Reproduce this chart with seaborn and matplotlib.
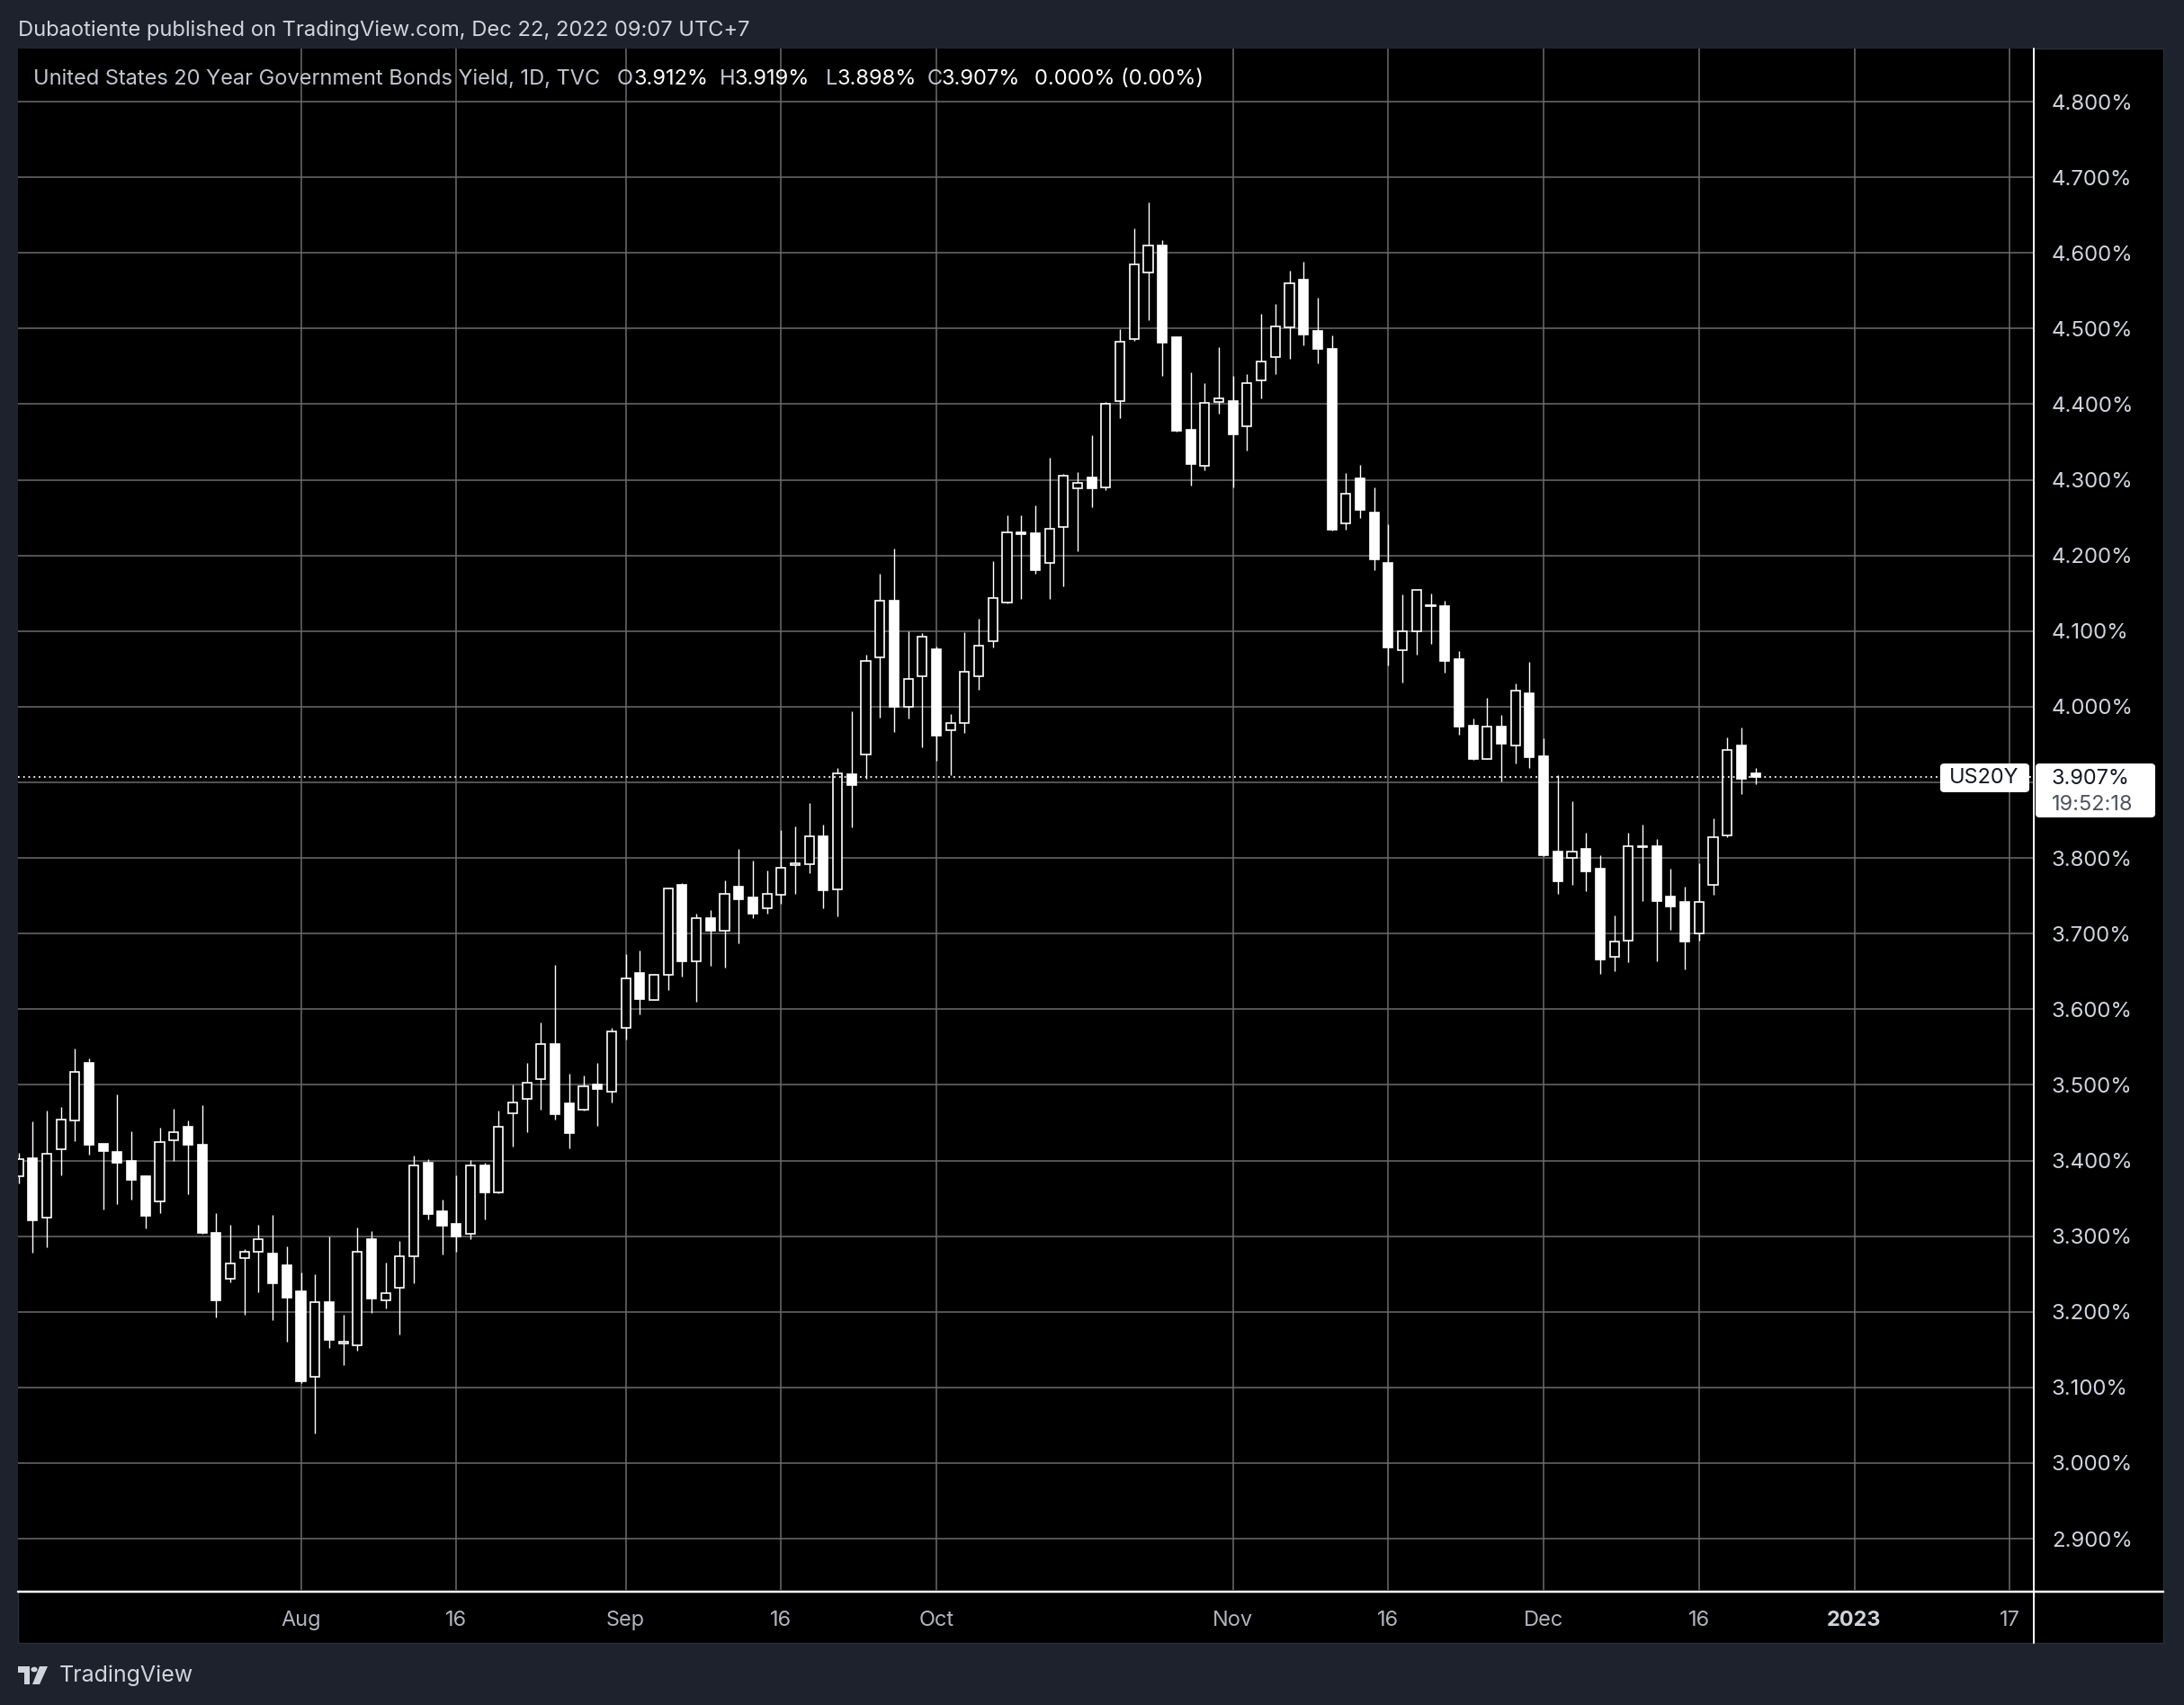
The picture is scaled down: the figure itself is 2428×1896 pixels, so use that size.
import numpy as np
import pandas as pd
import matplotlib
matplotlib.use("Agg")
import matplotlib.pyplot as plt
import seaborn as sns
from matplotlib.patches import Rectangle, FancyBboxPatch, Polygon, Circle
from matplotlib.lines import Line2D

# ---------------- data ----------------
dates = pd.bdate_range("2022-07-04", "2022-12-22")

opens = [3.379, 3.403, 3.325, 3.415, 3.453, 3.529, 3.422, 3.411, 3.400, 3.379,
         3.346, 3.427, 3.445, 3.421, 3.304, 3.244, 3.271, 3.279, 3.277, 3.262,
         3.227, 3.114, 3.213, 3.158, 3.156, 3.296, 3.215, 3.232, 3.273, 3.397,
         3.333, 3.316, 3.303, 3.393, 3.358, 3.462, 3.481, 3.508, 3.554, 3.476,
         3.467, 3.501, 3.491, 3.575, 3.648, 3.612, 3.646, 3.764, 3.663, 3.721,
         3.704, 3.762, 3.748, 3.733, 3.751, 3.791, 3.792, 3.829, 3.758, 3.911,
         3.937, 4.065, 4.140, 4.000, 4.040, 4.076, 3.969, 3.979, 4.040, 4.087,
         4.138, 4.230, 4.229, 4.190, 4.238, 4.289, 4.303, 4.290, 4.404, 4.486,
         4.574, 4.610, 4.488, 4.366, 4.319, 4.403, 4.404, 4.371, 4.431, 4.462,
         4.501, 4.565, 4.497, 4.473, 4.242, 4.302, 4.257, 4.190, 4.075, 4.100,
         4.133, 4.133, 4.063, 3.975, 3.931, 3.974, 3.949, 4.018, 3.934, 3.808,
         3.800, 3.812, 3.786, 3.669, 3.691, 3.816, 3.815, 3.749, 3.742, 3.700,
         3.764, 3.830, 3.949, 3.912]
highs = [3.410, 3.452, 3.466, 3.471, 3.548, 3.535, 3.422, 3.488, 3.439, 3.380,
         3.444, 3.468, 3.453, 3.473, 3.330, 3.315, 3.283, 3.315, 3.328, 3.287,
         3.252, 3.250, 3.300, 3.196, 3.312, 3.307, 3.265, 3.294, 3.406, 3.402,
         3.348, 3.380, 3.401, 3.397, 3.466, 3.500, 3.529, 3.582, 3.659, 3.515,
         3.512, 3.529, 3.575, 3.673, 3.678, 3.647, 3.761, 3.767, 3.727, 3.731,
         3.770, 3.812, 3.796, 3.784, 3.837, 3.842, 3.873, 3.844, 3.919, 3.994,
         4.069, 4.176, 4.209, 4.100, 4.097, 4.079, 3.990, 4.098, 4.116, 4.192,
         4.253, 4.253, 4.266, 4.329, 4.308, 4.310, 4.359, 4.403, 4.499, 4.632,
         4.667, 4.617, 4.489, 4.442, 4.428, 4.475, 4.437, 4.440, 4.519, 4.533,
         4.577, 4.588, 4.541, 4.491, 4.309, 4.320, 4.290, 4.241, 4.149, 4.155,
         4.150, 4.140, 4.073, 3.984, 4.012, 3.989, 4.031, 4.059, 3.958, 3.910,
         3.875, 3.834, 3.804, 3.724, 3.834, 3.844, 3.825, 3.786, 3.762, 3.793,
         3.853, 3.959, 3.972, 3.919]
lows = [3.370, 3.278, 3.285, 3.381, 3.426, 3.408, 3.335, 3.342, 3.348, 3.310,
        3.330, 3.399, 3.356, 3.303, 3.192, 3.239, 3.196, 3.226, 3.189, 3.161,
        3.106, 3.039, 3.152, 3.129, 3.148, 3.198, 3.204, 3.170, 3.238, 3.322,
        3.276, 3.279, 3.296, 3.322, 3.357, 3.419, 3.438, 3.467, 3.454, 3.416,
        3.466, 3.446, 3.477, 3.560, 3.593, 3.612, 3.625, 3.643, 3.610, 3.658,
        3.655, 3.687, 3.720, 3.726, 3.740, 3.752, 3.780, 3.733, 3.723, 3.840,
        3.905, 3.985, 3.967, 3.984, 3.946, 3.928, 3.910, 3.965, 4.023, 4.078,
        4.137, 4.142, 4.176, 4.142, 4.159, 4.206, 4.264, 4.286, 4.382, 4.484,
        4.511, 4.437, 4.364, 4.292, 4.313, 4.388, 4.290, 4.339, 4.408, 4.440,
        4.460, 4.478, 4.454, 4.233, 4.234, 4.250, 4.180, 4.055, 4.032, 4.069,
        4.083, 4.045, 3.963, 3.930, 3.931, 3.901, 3.925, 3.919, 3.802, 3.753,
        3.764, 3.756, 3.647, 3.650, 3.662, 3.743, 3.663, 3.705, 3.653, 3.691,
        3.751, 3.828, 3.884, 3.898]
closes = [3.402, 3.321, 3.409, 3.454, 3.517, 3.421, 3.412, 3.397, 3.375, 3.327,
          3.424, 3.438, 3.421, 3.304, 3.215, 3.264, 3.279, 3.296, 3.238, 3.219,
          3.108, 3.213, 3.163, 3.160, 3.279, 3.217, 3.225, 3.273, 3.394, 3.329,
          3.314, 3.300, 3.394, 3.358, 3.445, 3.477, 3.503, 3.554, 3.461, 3.436,
          3.498, 3.494, 3.571, 3.641, 3.614, 3.646, 3.760, 3.663, 3.721, 3.704,
          3.753, 3.745, 3.727, 3.752, 3.787, 3.793, 3.829, 3.757, 3.912, 3.897,
          4.061, 4.140, 4.000, 4.037, 4.092, 3.962, 3.979, 4.046, 4.081, 4.144,
          4.230, 4.228, 4.180, 4.235, 4.306, 4.296, 4.289, 4.401, 4.483, 4.585,
          4.610, 4.481, 4.365, 4.321, 4.402, 4.408, 4.360, 4.428, 4.456, 4.503,
          4.560, 4.492, 4.473, 4.234, 4.282, 4.260, 4.195, 4.078, 4.100, 4.155,
          4.134, 4.060, 3.974, 3.931, 3.974, 3.951, 4.021, 3.933, 3.804, 3.769,
          3.808, 3.782, 3.666, 3.690, 3.815, 3.814, 3.743, 3.736, 3.689, 3.742,
          3.827, 3.943, 3.905, 3.907]

price_ticks = [2.9, 3.0, 3.1, 3.2, 3.3, 3.4, 3.5, 3.6, 3.7, 3.8, 3.9,
               4.0, 4.1, 4.2, 4.3, 4.4, 4.5, 4.6, 4.7, 4.8]
time_tick_dates = ["2022-08-01", "2022-08-16", "2022-09-01", "2022-09-16",
                   "2022-10-03", "2022-11-01", "2022-11-16", "2022-12-01",
                   "2022-12-16", "2023-01-02", "2023-01-17"]
time_tick_labels = ["Aug", "16", "Sep", "16", "Oct", "Nov", "16", "Dec",
                    "16", "2023", "17"]
last_price = 3.907
symbol = "US20Y"
countdown = "19:52:18"

df = pd.DataFrame({"date": dates, "open": opens, "high": highs,
                   "low": lows, "close": closes})
df["idx"] = np.arange(len(df))
df["up"] = df["close"] >= df["open"]

axis_days = pd.bdate_range("2022-07-04", "2023-01-31")
tick_pos = axis_days.get_indexer(pd.to_datetime(time_tick_dates))

# ---------------- style ----------------
sns.set_theme(style="dark")
plt.rcParams["font.family"] = ["Inter", "DejaVu Sans"]

W, H = 2428, 1896
fig = plt.figure(figsize=(W / 100, H / 100), dpi=100, facecolor="#1e222d")


def fx(x):
    return x / W


def fy(y):
    return 1 - y / H


PX = 0.72  # points per pixel

# black chart panel
fig.add_artist(Rectangle((fx(20), fy(1827)), fx(2405) - fx(20), fy(54) - fy(1827),
                         transform=fig.transFigure, facecolor="black",
                         edgecolor="#2a2e39", lw=1.0, zorder=0))

ax_l, ax_r, ax_t, ax_b = 20, 2261, 54, 1768
ax = fig.add_axes([fx(ax_l), fy(ax_b), fx(ax_r) - fx(ax_l), fy(ax_t) - fy(ax_b)])
ax.set_facecolor("black")
for s in ax.spines.values():
    s.set_visible(False)

# scales: x_px = 20.5 + 15.70 * idx ; y_px = 113 + (4.8 - v) * 841.1
ax.set_xlim((ax_l - 20.5) / 15.70, (ax_r - 20.5) / 15.70)
ax.set_ylim(4.8 - (ax_b - 113) / 841.1, 4.8 - (ax_t - 113) / 841.1)

grid_c = "#6c6c6c"
ax.set_xticks(tick_pos)
ax.set_xticklabels(time_tick_labels)
ax.set_yticks(price_ticks)
# the tick label under the last-price box is covered in the reference
ax.set_yticklabels(["" if abs(v - round(last_price, 1)) < 1e-9 else f"{v:.3f}%"
                    for v in price_ticks])
ax.yaxis.tick_right()
ax.grid(True, color=grid_c, lw=1.1, zorder=0)
ax.tick_params(axis="y", length=0, pad=20 * PX, labelsize=24 * PX,
               labelcolor="#d1d4dc")
ax.tick_params(axis="x", length=0, pad=23 * PX, labelsize=23.5 * PX,
               labelcolor="#b2b5be")
for lab in ax.get_xticklabels():
    if lab.get_text() == "2023":
        lab.set_fontweight("bold")
        lab.set_color("#d1d4dc")

# candles
body_w = 0.64
ax.vlines(df["idx"], df["low"], df["high"], color="white", lw=1.0, zorder=2)
bottoms = np.minimum(df["open"], df["close"])
heights = np.maximum(np.abs(df["close"] - df["open"]), 0.0008)
faces = np.where(df["up"], "black", "white")
ax.bar(df["idx"], heights, bottom=bottoms, width=body_w, color=faces,
       edgecolor="white", linewidth=1.2, zorder=3)

# last price dotted line
ax.axhline(last_price, color="white", lw=1.3, ls=(0, (1, 2.2)), zorder=4)

# separators
fig.add_artist(Line2D([fx(2261), fx(2261)], [fy(54), fy(1827)], color="white",
                      lw=2 * PX, transform=fig.transFigure, zorder=5))
fig.add_artist(Line2D([fx(20), fx(2405)], [fy(1770), fy(1770)], color="white",
                      lw=2.5 * PX, transform=fig.transFigure, zorder=5))

# header
fig.text(fx(20), fy(34), "Dubaotiente published on TradingView.com, Dec 22, 2022 09:07 UTC+7",
         color="#d1d4dc", fontsize=23.7 * PX, va="center", ha="left")

# legend line
leg_y = fy(88)
fs = 23.6 * PX
fig.text(fx(37), leg_y, "United States 20 Year Government Bonds Yield, 1D, TVC",
         color="#c3c6ce", fontsize=fs, va="center", zorder=6)
parts = [("O", 686, "#c3c6ce"), (f"{opens[-1]:.3f}%", 705, "white"),
         ("H", 800, "#c3c6ce"), (f"{highs[-1]:.3f}%", 817, "white"),
         ("L", 918, "#c3c6ce"), (f"{lows[-1]:.3f}%", 930, "white"),
         ("C", 1031, "#c3c6ce"), (f"{closes[-1]:.3f}%", 1046, "white"),
         ("0.000% (0.00%)", 1150, "white")]
for t, x, c in parts:
    fig.text(fx(x), leg_y, t, color=c, fontsize=fs, va="center", zorder=6)

# symbol label and price label
fig.add_artist(FancyBboxPatch((fx(2157), fy(881)), fx(2256) - fx(2157), fy(849) - fy(881),
                              boxstyle="round,pad=0,rounding_size=0.002",
                              transform=fig.transFigure, facecolor="white",
                              edgecolor="none", zorder=7))
fig.text(fx(2206), fy(865), symbol, color="#131722", fontsize=23.5 * PX,
         ha="center", va="center", zorder=8)
fig.add_artist(FancyBboxPatch((fx(2263), fy(909)), fx(2396) - fx(2263), fy(849) - fy(909),
                              boxstyle="round,pad=0,rounding_size=0.002",
                              transform=fig.transFigure, facecolor="white",
                              edgecolor="none", zorder=7))
fig.text(fx(2281), fy(866), f"{last_price:.3f}%", color="#131722",
         fontsize=23.5 * PX, ha="left", va="center", zorder=8)
fig.text(fx(2281), fy(895), countdown, color="#50535e",
         fontsize=23.5 * PX, ha="left", va="center", zorder=8)

# footer logo + text
logo_c = "#d1d4dc"
fig.add_artist(Rectangle((fx(20), fy(1860)), fx(33) - fx(20), fy(1853) - fy(1860),
                         transform=fig.transFigure, color=logo_c, lw=0))
fig.add_artist(Rectangle((fx(27), fy(1873)), fx(33) - fx(27), fy(1853) - fy(1873),
                         transform=fig.transFigure, color=logo_c, lw=0))
fig.add_artist(Circle((fx(38), fy(1856.5)), 3.6 / W, transform=fig.transFigure,
                      color=logo_c, lw=0))
fig.add_artist(Polygon([(fx(44), fy(1853)), (fx(53), fy(1853)),
                        (fx(44), fy(1873)), (fx(36), fy(1873))],
                       closed=True, transform=fig.transFigure, color=logo_c, lw=0))
fig.text(fx(66), fy(1863), "TradingView", color=logo_c, fontsize=25 * PX,
         ha="left", va="center")

fig.savefig("out.png", dpi=100, facecolor=fig.get_facecolor())
